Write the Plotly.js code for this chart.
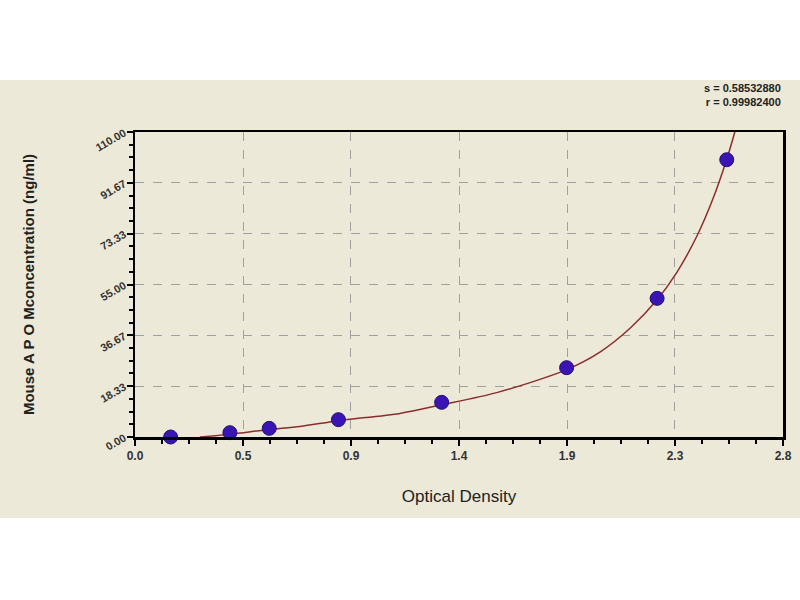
<!DOCTYPE html>
<html>
<head>
<meta charset="utf-8">
<script src="https://cdn.plot.ly/plotly-3.0.1.min.js"></script>
<style>
  body { margin: 0; padding: 0; background: #ffffff; }
  #myChart { width: 800px; height: 600px; }
</style>
</head>
<body>
<div id="myChart"></div>
<script>
// standard points (OD vs concentration)
const od_points = [0.154, 0.41, 0.58, 0.879, 1.325, 1.865, 2.256, 2.557];
const conc_points = [0, 1.56, 3.12, 6.25, 12.5, 25, 50, 100];

// fitted curve
const curve_od = [0.28, 0.41, 0.58, 0.713, 0.879, 1.145, 1.325, 1.563, 1.863, 2.009, 2.139, 2.254, 2.34, 2.427, 2.499, 2.557, 2.585, 2.6];
const curve_conc = [0, 1.0, 2.7, 3.8, 5.9, 8.5, 11.6, 16.0, 24.2, 30.6, 39.2, 49.3, 59.2, 72.3, 86.3, 100.2, 108, 112.5];

// tick labels
const x_tickvals = [0, 0.4667, 0.9333, 1.4, 1.8667, 2.3333, 2.8];
const x_ticktext = ["0.0", "0.5", "0.9", "1.4", "1.9", "2.3", "2.8"];
const y_tickvals = [0, 18.333, 36.667, 55, 73.333, 91.667, 110];
const y_ticktext = ["0.00", "18.33", "36.67", "55.00", "73.33", "91.67", "110.00"];

const fit_text = "s = 0.58532880<br>r = 0.99982400";

const tickFont = {family: "Liberation Sans, Arial, sans-serif", size: 11, color: "#333333", weight: "bold"};

const data = [
  {
    x: curve_od,
    y: curve_conc,
    mode: "lines",
    line: {color: "#8b2d2d", width: 1.5, shape: "spline", smoothing: 0.8},
    hoverinfo: "skip"
  },
  {
    x: od_points,
    y: conc_points,
    mode: "markers",
    cliponaxis: false,
    marker: {color: "#3a14b4", size: 14, line: {color: "#241070", width: 1}}
  }
];

const layout = {
  width: 800,
  height: 600,
  showlegend: false,
  paper_bgcolor: "#ffffff",
  plot_bgcolor: "#ffffff",
  margin: {l: 135, r: 17, t: 132, b: 163},
  xaxis: {
    range: [0, 2.8],
    tickmode: "array",
    tickvals: x_tickvals,
    ticktext: x_ticktext,
    ticks: "outside",
    ticklen: 6,
    tickwidth: 2,
    tickcolor: "#000000",
    tickfont: Object.assign({}, tickFont, {size: 12}),
    showline: true,
    mirror: true,
    linecolor: "#000000",
    linewidth: 2.5,
    showgrid: true,
    gridcolor: "#a0a0a0",
    griddash: "dash",
    gridwidth: 1,
    zeroline: false,
    minor: {tickmode: "linear", tick0: 0, dtick: 2.8 / 24, ticks: "outside", ticklen: 4, tickwidth: 2, tickcolor: "#000000", showgrid: false},
    title: {
      text: "Optical Density",
      font: {family: "Liberation Sans, Arial, sans-serif", size: 17, color: "#222222"},
      standoff: 28
    }
  },
  yaxis: {
    range: [0, 110],
    tickmode: "array",
    tickvals: y_tickvals,
    ticktext: y_ticktext,
    tickangle: -30,
    ticks: "outside",
    ticklen: 6,
    tickwidth: 2,
    tickcolor: "#000000",
    tickfont: tickFont,
    showline: true,
    mirror: true,
    linecolor: "#000000",
    linewidth: 2.5,
    showgrid: true,
    gridcolor: "#a0a0a0",
    griddash: "dash",
    gridwidth: 1,
    zeroline: false,
    minor: {tickmode: "linear", tick0: 0, dtick: 110 / 24, ticks: "outside", ticklen: 4, tickwidth: 2, tickcolor: "#000000", showgrid: false},
    title: {
      text: "Mouse A P O Mconcentration (ng/ml)",
      font: {family: "Liberation Sans, Arial, sans-serif", size: 15, color: "#222222", weight: "bold"},
      standoff: 55
    }
  },
  shapes: [
    {
      type: "rect", xref: "paper", yref: "paper", layer: "below",
      x0: -0.2083, x1: 1.03, y0: -0.2656, y1: 1.1705,
      fillcolor: "#ece9d8", line: {width: 0}
    }
  ],
  annotations: [
    {
      xref: "paper", yref: "paper", x: 1.0, y: 1.17,
      xanchor: "right", yanchor: "top", align: "right",
      showarrow: false,
      text: fit_text,
      font: {family: "Liberation Sans, Arial, sans-serif", size: 11, color: "#222222", weight: "bold"}
    }
  ]
};

const config = {staticPlot: true};

Plotly.newPlot("myChart", data, layout, config);
</script>
</body>
</html>
